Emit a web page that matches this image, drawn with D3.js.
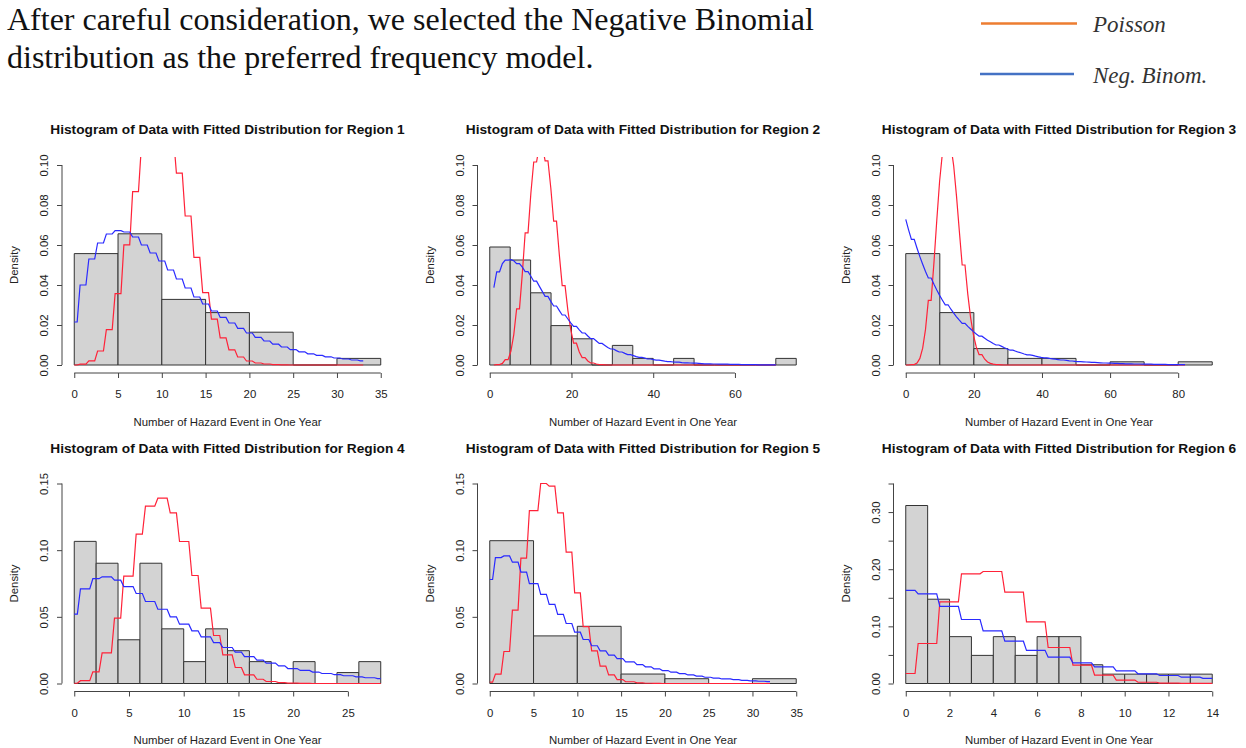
<!doctype html>
<html>
<head>
<meta charset="utf-8">
<script src="https://d3js.org/d3.v7.min.js"></script>
<style>
  body { margin: 0; background: #fff; }
  .lead { font-family: "Liberation Serif", "Times New Roman", serif; font-size: 32px; fill: #111; }
  .legend-text { font-family: "Liberation Serif", "Times New Roman", serif; font-style: italic; font-size: 23px; fill: #333; }
  .ptitle { font-family: "Liberation Sans", Arial, sans-serif; font-weight: bold; font-size: 13.7px; fill: #111; }
  .alabel { font-family: "Liberation Sans", Arial, sans-serif; font-size: 11.4px; fill: #222; }
  .bar { fill: #d3d3d3; stroke: #333; stroke-width: 1; }
</style>
</head>
<body>
<svg width="1246" height="748"></svg>
<script>
// ---- data ----
var titles = [
  "Histogram of Data with Fitted Distribution for Region 1",
  "Histogram of Data with Fitted Distribution for Region 2",
  "Histogram of Data with Fitted Distribution for Region 3",
  "Histogram of Data with Fitted Distribution for Region 4",
  "Histogram of Data with Fitted Distribution for Region 5",
  "Histogram of Data with Fitted Distribution for Region 6"
];
var xTitle = "Number of Hazard Event in One Year";
var yTitle = "Density";
var legendLabels = ["Poisson", "Neg. Binom."];

// region 1
var breaks1 = [0, 5, 10, 15, 20, 25, 30, 35];
var density1 = [0.0557, 0.0656, 0.0328, 0.0262, 0.0164, 0, 0.0033];
var curveStart1 = 0;
var poisson1 = [0.0000, 0.0004, 0.0021, 0.0070, 0.0177, 0.0357, 0.0601, 0.0867, 0.1095, 0.1229,
  0.1241, 0.1140, 0.0959, 0.0745, 0.0538, 0.0362, 0.0229, 0.0136, 0.0076, 0.0040,
  0.0020, 0.0010, 0.0005, 0.0002, 0.0001, 0, 0, 0, 0, 0, 0, 0, 0, 0];
var negbin1 = [0.0215, 0.040, 0.053, 0.061, 0.0655, 0.0672, 0.0665, 0.064, 0.060, 0.056,
  0.052, 0.0475, 0.043, 0.0385, 0.034, 0.0305, 0.027, 0.0238, 0.021, 0.0183,
  0.016, 0.0138, 0.012, 0.0104, 0.009, 0.0077, 0.0066, 0.0056, 0.0048, 0.0041,
  0.0035, 0.003, 0.0025, 0.0021];
var xlim1 = [0, 35], ylim1 = [0, 0.10];
var xTicks1 = [0, 5, 10, 15, 20, 25, 30, 35];
var yTicks1 = [0, 0.02, 0.04, 0.06, 0.08, 0.10];

// region 2
var breaks2 = [0, 5, 10, 15, 20, 25, 30, 35, 40, 45, 50, 55, 60, 65, 70, 75];
var density2 = [0.0590, 0.0525, 0.0361, 0.0197, 0.0131, 0, 0.0098, 0.0033, 0, 0.0033, 0, 0, 0, 0, 0.0033];
var curveStart2 = 1;
var poisson2 = [0.0000, 0.0002, 0.0008, 0.0027, 0.0070, 0.0152, 0.0281, 0.0457, 0.0661, 0.0859,
  0.1015, 0.1099, 0.1099, 0.1021, 0.0885, 0.0719, 0.0550, 0.0397, 0.0272, 0.0177,
  0.0109, 0.0065, 0.0037, 0.0020, 0.0010, 0.0005, 0.0002, 0.0001, 0, 0,
  0, 0, 0, 0, 0, 0, 0, 0, 0, 0, 0, 0, 0, 0, 0, 0, 0, 0, 0, 0,
  0, 0, 0, 0, 0, 0, 0, 0, 0, 0, 0, 0, 0, 0, 0, 0, 0, 0, 0, 0];
var negbin2 = [0.0387, 0.0466, 0.0507, 0.0524, 0.0527, 0.0521, 0.0507, 0.0489, 0.0467, 0.0444,
  0.0419, 0.0393, 0.0368, 0.0343, 0.0318, 0.0295, 0.0272, 0.0250, 0.0230, 0.0211,
  0.0193, 0.0176, 0.0160, 0.0145, 0.0132, 0.0120, 0.0108, 0.0098, 0.0088, 0.0080,
  0.0072, 0.0065, 0.0058, 0.0052, 0.0047, 0.0042, 0.0038, 0.0034, 0.0030, 0.0027,
  0.0024, 0.0022, 0.0019, 0.0017, 0.0015, 0.0014, 0.0012, 0.0011, 0.0010, 0.0009,
  0.0008, 0.0007, 0.0006, 0.0006, 0.0005, 0.0004, 0.0004, 0.0004, 0.0003, 0.0003,
  0.0003, 0.0002, 0.0002, 0.0002, 0.0002, 0.0001, 0.0001, 0.0001, 0.0001, 0.0001];
var xlim2 = [0, 75], ylim2 = [0, 0.10];
var xTicks2 = [0, 20, 40, 60];
var yTicks2 = [0, 0.02, 0.04, 0.06, 0.08, 0.10];

// region 3
var breaks3 = [0, 10, 20, 30, 40, 50, 60, 70, 80, 90];
var density3 = [0.0557, 0.0262, 0.0082, 0.0033, 0.0033, 0, 0.0016, 0, 0.0016];
var curveStart3 = 0;
var poisson3 = [0, 0, 0.0002, 0.0010, 0.0033, 0.0084, 0.0178, 0.0323, 0.0513, 0.0724,
  0.0919, 0.1061, 0.1123, 0.1097, 0.0995, 0.0843, 0.0669, 0.0500, 0.0353, 0.0236,
  0.0150, 0.0090, 0.0052, 0.0029, 0.0015, 0.0008, 0.0004, 0.0002, 0.0001, 0,
  0, 0, 0, 0, 0, 0, 0, 0, 0, 0, 0, 0, 0, 0, 0, 0, 0, 0, 0, 0,
  0, 0, 0, 0, 0, 0, 0, 0, 0, 0, 0, 0, 0, 0, 0, 0, 0, 0, 0, 0,
  0, 0, 0, 0, 0, 0, 0, 0, 0, 0, 0, 0, 0];
var negbin3 = [0.0728, 0.0676, 0.0628, 0.0584, 0.0542, 0.0504, 0.0468, 0.0435, 0.0404, 0.0375,
  0.0348, 0.0324, 0.0301, 0.0279, 0.0259, 0.0241, 0.0224, 0.0208, 0.0193, 0.0180,
  0.0167, 0.0155, 0.0144, 0.0134, 0.0124, 0.0116, 0.0107, 0.0100, 0.0093, 0.0086,
  0.0080, 0.0074, 0.0069, 0.0064, 0.0060, 0.0055, 0.0051, 0.0048, 0.0044, 0.0041,
  0.0038, 0.0036, 0.0033, 0.0031, 0.0029, 0.0027, 0.0025, 0.0023, 0.0021, 0.0020,
  0.0018, 0.0017, 0.0016, 0.0015, 0.0014, 0.0013, 0.0012, 0.0011, 0.0010, 0.0010,
  0.0009, 0.0008, 0.0008, 0.0007, 0.0007, 0.0006, 0.0006, 0.0005, 0.0005, 0.0005,
  0.0004, 0.0004, 0.0004, 0.0003, 0.0003, 0.0003, 0.0003, 0.0002, 0.0002, 0.0002,
  0.0002, 0.0002, 0.0002];
var xlim3 = [0, 90], ylim3 = [0, 0.10];
var xTicks3 = [0, 20, 40, 60, 80];
var yTicks3 = [0, 0.02, 0.04, 0.06, 0.08, 0.10];

// region 4
var breaks4 = [0, 2, 4, 6, 8, 10, 12, 14, 16, 18, 20, 22, 24, 26, 28];
var density4 = [0.1066, 0.0902, 0.0328, 0.0902, 0.0410, 0.0164, 0.0410, 0.0246, 0.0164, 0, 0.0164, 0, 0.0082, 0.0164];
var curveStart4 = 0;
var poisson4 = [0.0002, 0.0021, 0.0087, 0.0230, 0.0490, 0.0806, 0.1120, 0.1330, 0.1390, 0.1280,
  0.1065, 0.0810, 0.0565, 0.0360, 0.0215, 0.0120, 0.0065, 0.0032, 0.0015, 0.0007,
  0.0003, 0.0001, 0, 0, 0, 0, 0, 0, 0];
var negbin4 = [0.052, 0.071, 0.0786, 0.080, 0.0775, 0.0727, 0.0675, 0.0615, 0.0557, 0.050,
  0.0445, 0.0395, 0.035, 0.0307, 0.027, 0.0235, 0.0202, 0.0176, 0.0153, 0.0132,
  0.0112, 0.0098, 0.0086, 0.0075, 0.0066, 0.0058, 0.0050, 0.0043, 0.0037];
var xlim4 = [0, 28], ylim4 = [0, 0.15];
var xTicks4 = [0, 5, 10, 15, 20, 25];
var yTicks4 = [0, 0.05, 0.10, 0.15];

// region 5
var breaks5 = [0, 5, 10, 15, 20, 25, 30, 35];
var density5 = [0.1071, 0.0357, 0.0429, 0.0071, 0.0036, 0, 0.0036];
var curveStart5 = 0;
var poisson5 = [0.0010, 0.0070, 0.0240, 0.0550, 0.0940, 0.1296, 0.1500, 0.1480, 0.1280, 0.0985,
  0.0680, 0.0427, 0.0245, 0.0130, 0.0064, 0.0029, 0.0013, 0.0005, 0.0002, 0.0001,
  0, 0, 0, 0, 0, 0, 0, 0, 0, 0, 0, 0, 0];
var negbin5 = [0.078, 0.0944, 0.0957, 0.091, 0.0836, 0.0749, 0.0669, 0.0594, 0.0518, 0.0450,
  0.0385, 0.0330, 0.0283, 0.0245, 0.0213, 0.0186, 0.0162, 0.0142, 0.0125, 0.0110,
  0.0097, 0.0085, 0.0074, 0.0064, 0.0055, 0.0047, 0.0040, 0.0034, 0.0029, 0.0024,
  0.0020, 0.0017, 0.0014];
var xlim5 = [0, 35], ylim5 = [0, 0.15];
var xTicks5 = [0, 5, 10, 15, 20, 25, 30, 35];
var yTicks5 = [0, 0.05, 0.10, 0.15];

// region 6
var breaks6 = [0, 1, 2, 3, 4, 5, 6, 7, 8, 9, 10, 11, 12, 13, 14];
var density6 = [0.3115, 0.1475, 0.0820, 0.0492, 0.0820, 0.0492, 0.0820, 0.0820, 0.0328, 0.0164, 0.0164, 0.0164, 0.0164, 0.0164];
var curveStart6 = 0;
var poisson6 = [0.0175, 0.070, 0.143, 0.192, 0.196, 0.160, 0.108, 0.063, 0.032, 0.0146, 0.006, 0.0022, 0.0007, 0.0002, 0.0001];
var negbin6 = [0.163, 0.157, 0.135, 0.112, 0.092, 0.074, 0.058, 0.046, 0.036, 0.029, 0.022, 0.017, 0.014, 0.011, 0.009];
var xlim6 = [0, 14], ylim6 = [0, 0.35];
var xTicks6 = [0, 2, 4, 6, 8, 10, 12, 14];
var yTicks6 = [0, 0.05, 0.10, 0.15, 0.20, 0.25, 0.30, 0.35];
var yLabelled6 = [0, 0.10, 0.20, 0.30];

var panels = [
  {breaks: breaks1, dens: density1, start: curveStart1, pois: poisson1, nb: negbin1, xlim: xlim1, ylim: ylim1, xt: xTicks1, yt: yTicks1, yl: yTicks1},
  {breaks: breaks2, dens: density2, start: curveStart2, pois: poisson2, nb: negbin2, xlim: xlim2, ylim: ylim2, xt: xTicks2, yt: yTicks2, yl: yTicks2},
  {breaks: breaks3, dens: density3, start: curveStart3, pois: poisson3, nb: negbin3, xlim: xlim3, ylim: ylim3, xt: xTicks3, yt: yTicks3, yl: yTicks3},
  {breaks: breaks4, dens: density4, start: curveStart4, pois: poisson4, nb: negbin4, xlim: xlim4, ylim: ylim4, xt: xTicks4, yt: yTicks4, yl: yTicks4},
  {breaks: breaks5, dens: density5, start: curveStart5, pois: poisson5, nb: negbin5, xlim: xlim5, ylim: ylim5, xt: xTicks5, yt: yTicks5, yl: yTicks5},
  {breaks: breaks6, dens: density6, start: curveStart6, pois: poisson6, nb: negbin6, xlim: xlim6, ylim: ylim6, xt: xTicks6, yt: yTicks6, yl: yLabelled6}
];

// ---- layout ----
var svg = d3.select("svg");
var colLeft = [62, 477.5, 893.5],
    rowTop = [157, 475.5],
    plotW = 331, plotH = 216;

// intro text and legend
svg.append("text").attr("class", "lead").attr("x", 7).attr("y", 30)
   .text("After careful consideration, we selected the Negative Binomial");
svg.append("text").attr("class", "lead").attr("x", 7).attr("y", 68)
   .text("distribution as the preferred frequency model.");

var legend = svg.append("g");
legend.append("line").attr("x1", 981).attr("x2", 1077).attr("y1", 23.5).attr("y2", 23.5)
      .attr("stroke", "#ed7d31").attr("stroke-width", 2.6);
legend.append("text").attr("class", "legend-text").attr("x", 1093).attr("y", 31.5).text(legendLabels[0]);
legend.append("line").attr("x1", 980).attr("x2", 1074).attr("y1", 74).attr("y2", 74)
      .attr("stroke", "#4472c4").attr("stroke-width", 2.6);
legend.append("text").attr("class", "legend-text").attr("x", 1093).attr("y", 82.5).text(legendLabels[1]);

var fmt2 = d3.format(".2f");

panels.forEach(function(p, i) {
    var col = i % 3, row = Math.floor(i / 3);
    var left = colLeft[col], top = rowTop[row];
    var xr = p.xlim[1] - p.xlim[0], yr = p.ylim[1] - p.ylim[0];

    // R style: 4% padding on each side of the limits
    var x = d3.scaleLinear()
        .domain([p.xlim[0] - 0.04 * xr, p.xlim[1] + 0.04 * xr])
        .range([left, left + plotW]);
    var y = d3.scaleLinear()
        .domain([p.ylim[0] - 0.04 * yr, p.ylim[1] + 0.04 * yr])
        .range([top + plotH, top]);

    var g = svg.append("g");

    g.append("clipPath").attr("id", "clip" + i)
     .append("rect").attr("x", left).attr("y", top).attr("width", plotW).attr("height", plotH);

    // histogram bars (paths so empty bins still show their baseline)
    g.selectAll(".bar")
     .data(p.dens)
     .enter().append("path")
     .attr("class", "bar")
     .attr("d", function(d, j) {
         var x0 = x(p.breaks[j]), x1 = x(p.breaks[j + 1]);
         return "M" + x0 + "," + y(0) + "V" + y(d) + "H" + x1 + "V" + y(0) + "Z";
     });

    // fitted curves evaluated on a 100-point grid like lines() in R
    var end = p.start + p.pois.length - 1;
    var grid = d3.range(100).map(function(j) { return p.start + j * (end - p.start) / 99; });
    var line = d3.line().x(function(d) { return x(d[0]); }).y(function(d) { return y(d[1]); });

    var curves = [[p.pois, "#ff2238"], [p.nb, "#2a2aff"]];
    curves.forEach(function(c) {
        var pts = grid.map(function(v) { return [v, c[0][Math.round(v) - p.start]]; });
        g.append("path")
         .attr("d", line(pts))
         .attr("fill", "none")
         .attr("stroke", c[1])
         .attr("stroke-width", 1.2)
         .attr("clip-path", "url(#clip" + i + ")");
    });

    // x axis
    var xa = g.append("g")
        .attr("transform", "translate(0," + (top + plotH) + ")")
        .call(d3.axisBottom(x).tickValues(p.xt).tickSize(5).tickPadding(12).tickFormat(d3.format("d")));
    xa.select(".domain").remove();
    xa.append("line")
      .attr("x1", x(p.xt[0])).attr("x2", x(p.xt[p.xt.length - 1]))
      .attr("stroke", "#444");
    xa.selectAll(".tick line").attr("stroke", "#444");
    xa.attr("font-size", 11.4).attr("font-family", "Liberation Sans, Arial, sans-serif");
    xa.selectAll("text").attr("fill", "#222");

    // y axis, labels turned like R's las=0
    var ya = g.append("g")
        .attr("transform", "translate(" + left + ",0)")
        .call(d3.axisLeft(y).tickValues(p.yt).tickSize(5)
            .tickFormat(function(d) {
                return p.yl.some(function(v) { return Math.abs(v - d) < 1e-9; }) ? fmt2(d) : "";
            }));
    ya.select(".domain").remove();
    ya.append("line")
      .attr("y1", y(p.yt[0])).attr("y2", y(p.yt[p.yt.length - 1]))
      .attr("stroke", "#444");
    ya.selectAll(".tick line").attr("stroke", "#444");
    ya.attr("font-size", 11.4).attr("font-family", "Liberation Sans, Arial, sans-serif");
    ya.selectAll("text")
      .attr("transform", "rotate(-90)")
      .attr("x", 0).attr("y", -14).attr("dy", 0)
      .attr("text-anchor", "middle")
      .attr("fill", "#222");

    // titles
    g.append("text").attr("class", "ptitle")
     .attr("x", left + plotW / 2).attr("y", top - 23)
     .attr("text-anchor", "middle").text(titles[i]);
    g.append("text").attr("class", "alabel")
     .attr("x", left + plotW / 2).attr("y", top + plotH + 52.5)
     .attr("text-anchor", "middle").text(xTitle);
    g.append("text").attr("class", "alabel")
     .attr("transform", "translate(" + (left - 44) + "," + (top + plotH / 2) + ") rotate(-90)")
     .attr("text-anchor", "middle").text(yTitle);
});
</script>
</body>
</html>
